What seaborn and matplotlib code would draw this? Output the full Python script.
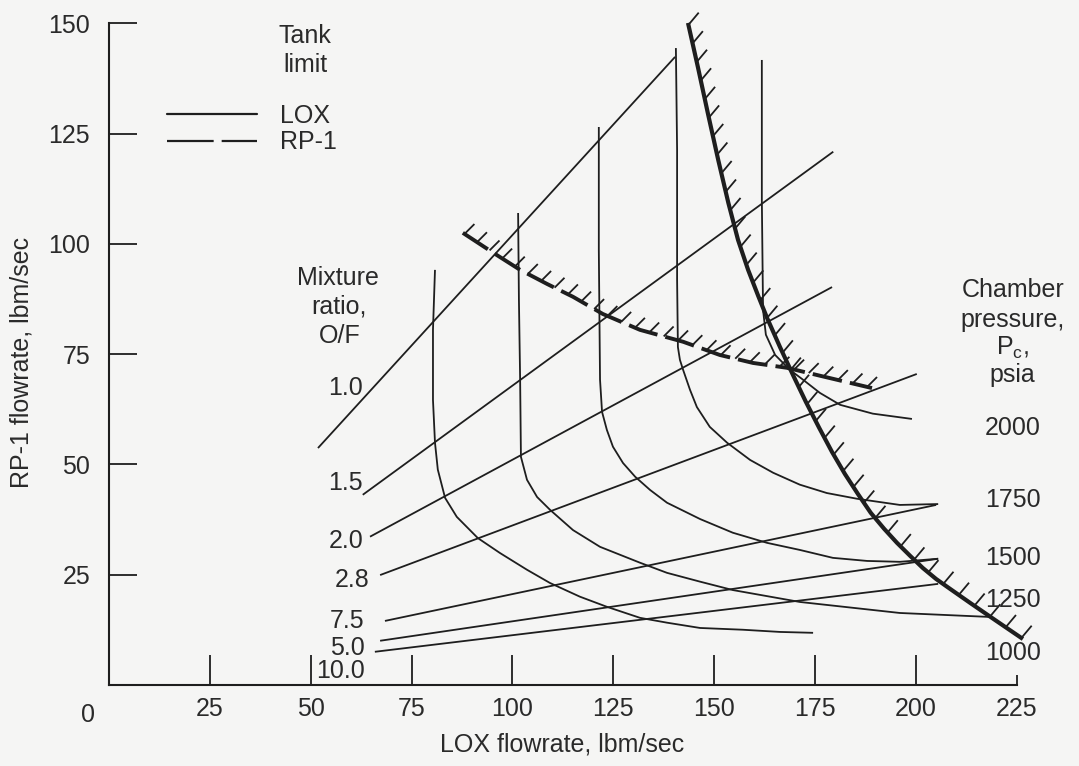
import numpy as np
import matplotlib
matplotlib.use("Agg")
import matplotlib.pyplot as plt
from matplotlib.lines import Line2D
import seaborn as sns

# ---- data (lbm/sec) ----
# mixture ratio lines: [start, end]
ratio_labels = ["1.0", "1.5", "2.0", "2.8", "7.5", "5.0", "10.0"]
ratio_lox = [[51.8, 140.3], [62.9, 179.5], [64.7, 179.2], [67.2, 200.2],
             [68.4, 205.0], [67.2, 205.5], [65.9, 205.5]]
ratio_rp1 = [[53.7, 142.4], [43.1, 120.9], [33.6, 90.2], [24.9, 70.5],
             [14.5, 40.8], [10.0, 28.6], [7.5, 22.9]]

# chamber pressure curves
pc_labels = ["2000", "1750", "1500", "1250", "1000"]
pc_1000_lox = [80.8, 80.3, 80.3, 80.8, 81.5, 83.3, 86.2, 91.4, 96.9, 103.6, 109.3,
               116.7, 123.4, 131.6, 138.3, 146.5, 157.1, 166.3, 174.5]
pc_1000_rp1 = [94.1, 80.5, 64.6, 54.9, 48.8, 42.4, 38.1, 33.3, 29.9, 26.1, 23.1,
               20.0, 17.7, 15.2, 14.1, 12.9, 12.5, 12.0, 11.8]
pc_1250_lox = [101.4, 101.6, 101.9, 102.1, 103.6, 106.1, 109.3, 115.0, 121.7, 131.6,
               138.3, 146.5, 154.6, 171.2, 196.0, 218.3]
pc_1250_rp1 = [107.0, 87.3, 69.2, 51.7, 46.5, 42.6, 39.7, 35.1, 31.3, 27.7,
               25.4, 23.4, 21.5, 18.8, 16.3, 15.4]
pc_1500_lox = [121.4, 121.4, 121.7, 122.2, 123.4, 124.9, 127.4, 130.4, 134.1, 138.3,
               146.5, 154.6, 163.1, 171.2, 179.4, 187.9, 196.0, 205.5]
pc_1500_rp1 = [126.5, 98.6, 69.2, 61.9, 57.8, 54.0, 50.3, 47.2, 44.2, 41.3,
               37.6, 34.5, 32.2, 30.6, 28.8, 28.1, 27.9, 28.6]
pc_1750_lox = [140.5, 140.8, 140.8, 141.0, 141.5, 142.3, 144.0, 145.7, 148.9, 153.2,
               158.9, 164.6, 171.2, 177.9, 185.4, 196.0, 205.5]
pc_1750_rp1 = [144.4, 121.3, 91.8, 76.6, 73.7, 71.4, 66.9, 63.0, 58.5, 54.9,
               51.0, 48.1, 45.4, 43.5, 42.2, 40.8, 41.0]
pc_2000_lox = [161.8, 161.8, 162.1, 162.8, 165.1, 168.8, 172.0, 176.2, 181.2, 189.3, 199.0]
pc_2000_rp1 = [141.7, 110.0, 85.0, 79.4, 74.8, 71.4, 69.2, 66.2, 63.5, 61.5, 60.3]

# tank limits
lox_limit_lox = [143.5, 146.0, 148.5, 151.0, 153.5, 155.9, 158.4, 160.9, 163.1,
                 166.3, 169.5, 172.7, 176.0, 179.2, 182.4, 185.6, 188.8, 192.1,
                 195.3, 198.5, 201.7, 205.0, 208.4, 213.4, 219.6, 226.5]
lox_limit_rp1 = [150.1, 139.9, 129.3, 119.0, 109.3, 100.9, 94.1, 88.2, 83.2,
                 76.6, 70.3, 64.2, 58.3, 52.8, 47.8, 43.3, 39.0, 35.4,
                 32.2, 29.3, 26.5, 24.0, 21.8, 18.6, 14.7, 10.4]
rp1_limit_lox = [87.7, 95.2, 101.9, 108.6, 115.0, 122.4, 131.6, 142.3, 151.4,
                 159.6, 168.0, 176.2, 189.1]
rp1_limit_rp1 = [102.5, 98.0, 94.1, 90.9, 88.0, 84.1, 80.5, 77.8, 74.8,
                 73.0, 71.9, 70.1, 67.3]

x_ticks = [25, 50, 75, 100, 125, 150, 175, 200]
y_ticks = [25, 50, 75, 100, 125, 150]

# ---- style ----
LINE = "#1e1e1e"
TEXT = "#2a2a2a"
BG = "#f5f5f4"
FS = 18

sns.set_theme(style="white", rc={"axes.facecolor": BG, "figure.facecolor": BG})
plt.rcParams["font.family"] = ["Liberation Sans", "DejaVu Sans"]
plt.rcParams["mathtext.fontset"] = "custom"
plt.rcParams["mathtext.rm"] = "Liberation Sans"
plt.rcParams["mathtext.it"] = "Liberation Sans"

fig = plt.figure(figsize=(10.79, 7.66), dpi=100)
ax = fig.add_axes([0, 0, 1, 1])
ax.set_xlim(-27.0, 240.4)
ax.set_ylim(-18.4, 155.3)

for s in ["top", "right"]:
    ax.spines[s].set_visible(False)
for s, hi in [("left", 150), ("bottom", 225)]:
    ax.spines[s].set_position(("data", 0))
    ax.spines[s].set_bounds(0, hi)
    ax.spines[s].set_color(LINE)
    ax.spines[s].set_linewidth(1.5)

ax.set_xticks(x_ticks, labels=[str(v) for v in x_ticks])
ax.set_xticks([225], labels=["225"], minor=True)
ax.set_yticks(y_ticks, labels=[str(v) for v in y_ticks])
ax.tick_params(axis="x", which="both", bottom=True, direction="in", length=21.5,
               width=1.3, color=LINE, labelsize=FS, labelcolor=TEXT, pad=9)
ax.tick_params(axis="x", which="minor", length=7)
ax.tick_params(axis="y", left=True, direction="in", length=20, width=1.3,
               color=LINE, labelsize=FS, labelcolor=TEXT, pad=13.5)
ax.grid(False)


def draw(xs, ys, lw=1.2):
    sns.lineplot(x=xs, y=ys, sort=False, estimator=None, color=LINE,
                 linewidth=lw, ax=ax)
    line = ax.lines[-1]
    line.set_solid_capstyle("butt")
    line.set_solid_joinstyle("round")
    return line


def hatch(xs, ys, spacing, length, angle, lw=1.3):
    # short ticks along a limit line, spaced in screen pixels
    pts = ax.transData.transform(np.column_stack([xs, ys]))
    seg = np.hypot(*np.diff(pts, axis=0).T)
    s = np.concatenate([[0], np.cumsum(seg)])
    d = np.arange(2, s[-1], spacing)
    px = np.interp(d, s, pts[:, 0])
    py = np.interp(d, s, pts[:, 1])
    a = np.deg2rad(angle)
    inv = ax.transData.inverted()
    p0 = inv.transform(np.column_stack([px, py]))
    p1 = inv.transform(np.column_stack([px + length * np.cos(a), py + length * np.sin(a)]))
    for (x0, y0), (x1, y1) in zip(p0, p1):
        ax.plot([x0, x1], [y0, y1], color=LINE, lw=lw, solid_capstyle="butt")


# mixture ratio lines
for lx, ry in zip(ratio_lox, ratio_rp1):
    draw(lx, ry, lw=1.3)

# chamber pressure curves
for lx, ry in [(pc_1000_lox, pc_1000_rp1), (pc_1250_lox, pc_1250_rp1),
               (pc_1500_lox, pc_1500_rp1), (pc_1750_lox, pc_1750_rp1),
               (pc_2000_lox, pc_2000_rp1)]:
    draw(lx, ry, lw=1.3)

# tank limits
draw(lox_limit_lox, lox_limit_rp1, lw=3.0)
hatch(lox_limit_lox, lox_limit_rp1, spacing=19, length=16, angle=50)
rp1 = draw(rp1_limit_lox, rp1_limit_rp1, lw=2.8)
rp1.set_dashes((7.7, 2.1))
hatch(rp1_limit_lox, rp1_limit_rp1, spacing=15, length=14, angle=45)

# legend
handles = [Line2D([], [], color=LINE, lw=1.6),
           Line2D([], [], color=LINE, lw=1.6, dashes=(21, 3.6))]
leg = ax.legend(handles, ["LOX", "RP-1"], loc="center left",
                bbox_to_anchor=(14.4, 126.0), bbox_transform=ax.transData,
                frameon=False, fontsize=FS, handlelength=3.6, handletextpad=0.9,
                labelspacing=0.1, borderpad=0, borderaxespad=0)
for t in leg.get_texts():
    t.set_color(TEXT)

txt = dict(fontsize=FS, color=TEXT, ha="center", va="baseline")
ax.text(48.6, 145.6, "Tank", **txt)
ax.text(48.8, 139.0, "limit", **txt)

ax.text(56.8, 90.7, "Mixture", **txt)
ax.text(57.0, 84.1, "ratio,", **txt)
ax.text(57.3, 77.6, "O/F", **txt)

ratio_label_x = [58.7, 58.7, 58.7, 60.2, 59.0, 59.0, 57.3]
ratio_label_y = [65.8, 44.2, 31.1, 22.2, 12.9, 6.8, 1.6]
for lab, tx, ty in zip(ratio_labels, ratio_label_x, ratio_label_y):
    ax.text(tx, ty, lab, **txt)

ax.text(224.0, 88.0, "Chamber", **txt)
ax.text(224.0, 81.2, "pressure,", **txt)
ax.text(224.0, 74.8, r"P$_{\mathrm{c}}$,", **txt)
ax.text(224.0, 68.7, "psia", **txt)

pc_label_y = [56.7, 40.4, 27.2, 17.7, 5.7]
for lab, ty in zip(pc_labels, pc_label_y):
    ax.text(224.0, ty, lab, **txt)

ax.text(-5.2, -8.4, "0", **txt)
ax.text(112.3, -15.2, "LOX flowrate, lbm/sec", **txt)
ax.text(-21.6, 73.0, "RP-1 flowrate, lbm/sec", fontsize=FS, color=TEXT,
        ha="center", va="center", rotation=90)

plt.savefig("out.png", dpi=100, facecolor=BG)
plt.close()
